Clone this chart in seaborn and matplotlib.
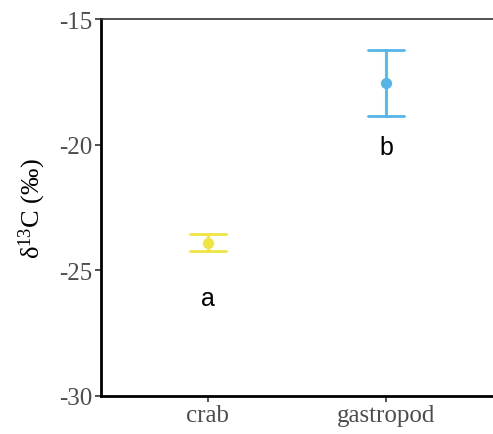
import matplotlib
matplotlib.use("Agg")
import matplotlib.pyplot as plt
import seaborn as sns
import pandas as pd

groups = ["crab", "gastropod"]
means = [-23.9, -17.55]
lower = [-24.25, -18.85]
upper = [-23.55, -16.25]
letters = ["a", "b"]
letter_y = [-26.1, -20.1]
colors = ["#F0E442", "#56B4E9"]
yticks = [-30, -25, -20, -15]

rows = []
for g, lo, m, hi in zip(groups, lower, means, upper):
    for v in (lo, m, hi):
        rows.append({"group": g, "value": v})
df = pd.DataFrame(rows)

sns.set_style("white")
plt.rcParams["font.family"] = ["Liberation Serif", "DejaVu Serif"]
plt.rcParams["mathtext.fontset"] = "custom"
plt.rcParams["mathtext.rm"] = "Liberation Serif"

fig = plt.figure(figsize=(4.93, 4.35), dpi=100)
ax = fig.add_axes([0.205, 0.0874, 0.795, 0.8666])

sns.pointplot(data=df, x="group", y="value", hue="group", order=groups,
              hue_order=groups, palette=colors, estimator="median",
              errorbar=("pi", 100), capsize=0.2, linestyle="none",
              markersize=6, err_kws={"linewidth": 2}, legend=False, ax=ax)

for i, (t, y) in enumerate(zip(letters, letter_y)):
    ax.text(i, y, t, ha="center", va="center", fontsize=18,
            family=["Liberation Sans", "DejaVu Sans"], color="black")

ax.set_xlim(-0.6, 1.6)
ax.set_ylim(-30, -15)
ax.set_yticks(yticks)
ax.set_yticklabels([str(v) for v in yticks])
ax.set_xlabel("")
ax.set_ylabel("δ$\\mathregular{^{13}}$C (‰)", fontsize=19, color="black", labelpad=8)

for s in ["left", "bottom"]:
    ax.spines[s].set_linewidth(2)
    ax.spines[s].set_color("black")
ax.spines["right"].set_visible(False)
ax.spines["top"].set_linewidth(1.2)
ax.spines["top"].set_color("#333333")

ax.tick_params(axis="both", which="major", length=4, width=1.2, color="#333333",
               labelsize=18, labelcolor="#4D4D4D", bottom=True, left=True, pad=2)

fig.savefig("out.png", dpi=100)
